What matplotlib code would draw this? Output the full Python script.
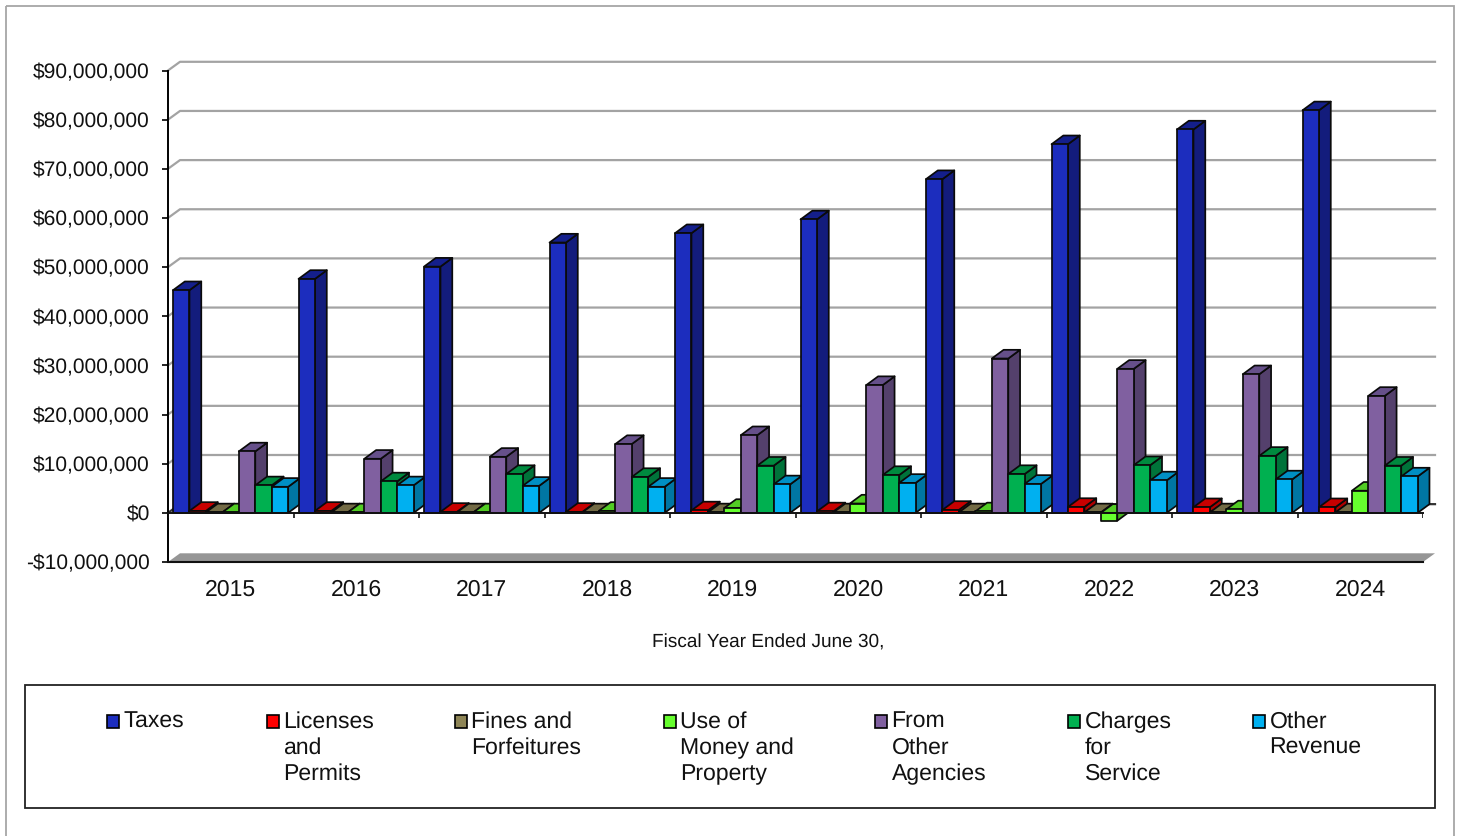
import matplotlib
matplotlib.use("Agg")
import matplotlib.pyplot as plt
from matplotlib.patches import Polygon, Rectangle

plt.rcParams["font.family"] = ["Liberation Sans", "DejaVu Sans"]
plt.rcParams["text.hinting"] = "no_hinting"
plt.rcParams["text.hinting_factor"] = 1

# values in millions of dollars
years = ["2015", "2016", "2017", "2018", "2019", "2020", "2021", "2022", "2023", "2024"]
taxes = [45.3, 47.6, 50.1, 55.0, 56.9, 59.7, 67.9, 75.0, 78.0, 81.9]
licenses = [0.4, 0.4, 0.2, 0.2, 0.5, 0.3, 0.6, 1.2, 1.15, 1.15]
fines = [0.1, 0.1, 0.1, 0.1, 0.1, 0.1, 0.1, 0.1, 0.1, 0.1]
use_of_money = [0.1, 0.1, 0.1, 0.4, 1.0, 1.9, 0.3, -1.6, 0.7, 4.5]
other_agencies = [12.5, 11.0, 11.4, 14.0, 15.8, 26.0, 31.4, 29.3, 28.2, 23.8]
charges = [5.6, 6.4, 7.9, 7.3, 9.6, 7.7, 7.9, 9.7, 11.6, 9.6]
other_revenue = [5.3, 5.6, 5.5, 5.3, 5.8, 6.1, 5.9, 6.6, 6.8, 7.4]
y_ticks = [-10, 0, 10, 20, 30, 40, 50, 60, 70, 80, 90]

series = [taxes, licenses, fines, use_of_money, other_agencies, charges, other_revenue]
legend_labels = ["Taxes", "Licenses\nand\nPermits", "Fines and\nForfeitures", "Use of\nMoney and\nProperty",
                 "From\nOther\nAgencies", "Charges\nfor\nService", "Other\nRevenue"]
# front, side, top
colors = [("#1C2DBE", "#131C7C", "#141F8C"), ("#FF0000", "#B00000", "#C80000"), ("#8E8556", "#6A6340", "#736B45"),
          ("#66FF2E", "#46B020", "#52CC24"), ("#8060A0", "#54406C", "#66508A"), ("#00B050", "#00733A", "#008A3F"),
          ("#00B0F0", "#0076A3", "#008FC4")]
legend_swatch_x = [107, 267, 455, 664, 875, 1068, 1253]

W, H = 1458, 836
L, R, T, B = 168, 1423, 70.5, 562
BAR_W = 16.45 / 125.5
GROUP_PAD = 0.04
DX = 11.8 / 125.5
DY = 8.7 / 4.915
WALL_DX = 12 / 125.5

fig = plt.figure(figsize=(W / 100, H / 100), dpi=100, facecolor="white")

# page frame and legend live on a pixel-sized overlay
page = fig.add_axes([0, 0, 1, 1], zorder=0)
page.set_xlim(0, W)
page.set_ylim(H, 0)
page.axis("off")
page.add_patch(Rectangle((6, 6), 1448, 860, fill=False, ec="#a6a6a6", lw=1.3))
page.add_patch(Rectangle((25, 685), 1410, 123, fill=False, ec="#222222", lw=1.3))
for x0, label, c in zip(legend_swatch_x, legend_labels, colors):
    page.add_patch(Rectangle((x0, 715), 12.5, 12.5, fc=c[0], ec="black", lw=1.2))
    for i, line in enumerate(label.split("\n")):
        page.text(x0 + 16.5, 722 + 26 * i, line, fontsize=16.4, va="center", ha="left", color="#111111")
page.text(768, 642.5, "Fiscal Year Ended June 30,", fontsize=14.0, ha="center", va="center", color="#111111")

ax = fig.add_axes([L / W, 1 - B / H, (R - L) / W, (B - T) / H], zorder=1)
ax.patch.set_alpha(0)
ax.set_xlim(0, len(years))
ax.set_ylim(-10, 90)

for s in ("top", "right", "bottom"):
    ax.spines[s].set_visible(False)
ax.spines["left"].set_linewidth(1.4)

ax.set_yticks(y_ticks)
ax.set_yticklabels([f"-${-v},000,000" if v < 0 else (f"${v},000,000" if v else "$0") for v in y_ticks],
                   fontsize=15.4, color="#111111")
ax.tick_params(axis="y", length=4.3, width=1.2, pad=8.8)
ax.set_xticks([i + 0.5 for i in range(len(years))])
ax.set_xticklabels(years, fontsize=16.4, color="#111111")
ax.tick_params(axis="x", length=0, pad=12.5)

# back wall gridlines with the little diagonal back to the axis
n = len(years)
for v in y_ticks[1:]:
    c = "#a3a3a3" if v else "#333333"
    ax.plot([0, WALL_DX, n + WALL_DX], [v, v + DY, v + DY], color=c, lw=1.6, zorder=1, clip_on=False)

# floor
ax.add_patch(Polygon([(0, -10), (n, -10), (n + WALL_DX, -10 + DY), (WALL_DX, -10 + DY)],
                     fc="#969696", ec="none", zorder=2, clip_on=False))
ax.plot([0, n], [-10, -10], color="#111111", lw=1.5, zorder=3, clip_on=False)

z = 10
for i in range(n):
    for j, values in enumerate(series):
        v = values[i]
        x0 = i + GROUP_PAD + j * BAR_W
        x1 = x0 + BAR_W
        front, side, top = colors[j]
        hi = max(v, 0)
        lo = min(v, 0)
        edge = {"edgecolor": "#0a0a0a", "linewidth": 1.25, "joinstyle": "round", "clip_on": False}
        ax.add_patch(Polygon([(x1, lo), (x1 + DX, lo + DY), (x1 + DX, hi + DY), (x1, hi)],
                             fc=side, zorder=z, **edge))
        ax.add_patch(Polygon([(x0, hi), (x1, hi), (x1 + DX, hi + DY), (x0 + DX, hi + DY)],
                             fc=top, zorder=z + 1, **edge))
        ax.bar(x0, v, width=BAR_W, align="edge", color=front, zorder=z + 2, **edge)
        z += 3

# zero line and its ticks in front of the bars
ax.plot([0, n], [0, 0], color="#111111", lw=1.4, zorder=z, clip_on=False)
ax.vlines(range(n + 1), -1.0, 0, color="#111111", lw=1.2, zorder=z)

fig.savefig("out.png", dpi=100)
